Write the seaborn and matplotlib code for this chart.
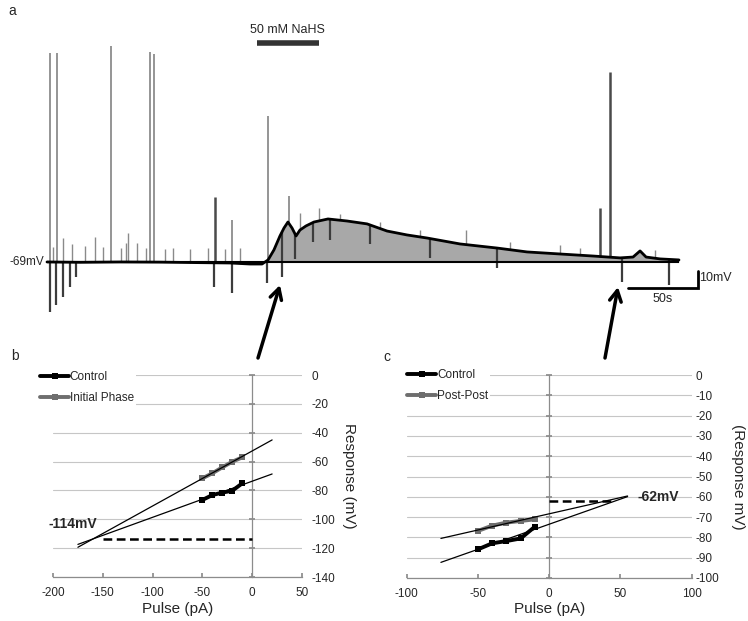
import numpy as np
import pandas as pd
import matplotlib
matplotlib.use("Agg")
import matplotlib.pyplot as plt
import seaborn as sns
from matplotlib.lines import Line2D
from matplotlib.patches import FancyArrowPatch

# ---------------- Panel a: membrane potential trace (time s, mV) ----------------
trace_t = [0, 23.6, 52.1, 80.7, 109.3, 130.7, 145.0, 153.6, 157.9, 162.1, 166.4, 169.3,
           172.1, 175.0, 177.9, 180.7, 185.0, 190.7, 200.7, 214.3, 228.6, 242.9, 257.1,
           271.4, 295.0, 321.4, 342.9, 366.4, 390.0, 409.3, 418.6, 423.6, 427.9, 437.9, 451.4]
trace_mv = [-69.0, -69.2, -69.0, -69.1, -69.4, -69.6, -70.2, -70.2, -67.8, -61.9, -53.7, -49.0,
            -45.5, -49.0, -53.7, -50.2, -47.8, -45.5, -43.7, -44.9, -46.6, -50.8, -53.1,
            -54.9, -58.4, -60.8, -63.1, -64.3, -65.5, -66.6, -66.1, -62.5, -66.1, -67.2, -67.8]
resting_mv = -69

spike_t = [2.1, 7.1, 45.7, 73.6, 76.4, 132.1, 157.9, 172.9]
spike_top = [53.9, 53.9, 58.1, 54.5, 53.4, -44.3, 16.9, -30.2]
dark_spike_t = [120.0, 395.0, 402.1]
dark_spike_top = [-30.8, -37.2, 42.8]

down_t = [2.1, 6.4, 11.4, 16.4, 20.7, 119.3, 132.1, 157.1, 167.9, 177.1, 190.0, 202.1,
          230.7, 273.6, 321.4, 410.7, 444.3]
down_bottom = [-98.4, -94.3, -89.6, -83.7, -77.8, -83.7, -87.2, -81.3, -77.8, -67.2, -57.2,
               -56.1, -58.4, -66.6, -72.5, -80.8, -82.5]

noise_t = [4.3, 11.4, 17.9, 27.1, 34.3, 40.0, 52.9, 56.4, 57.9, 64.3, 70.7, 84.3, 90.0,
           102.1, 115.0, 127.1, 137.9, 180.7, 194.3, 209.3, 237.9, 266.4, 299.3, 330.7,
           366.4, 380.7, 434.3]
noise_top = [-60.2, -54.9, -58.4, -59.6, -54.3, -60.2, -60.8, -57.8, -51.9, -57.8, -60.8,
             -61.4, -60.8, -61.4, -60.8, -61.4, -60.8, -40.2, -37.2, -40.8, -45.5, -50.2,
             -50.2, -57.2, -59.0, -60.8, -61.9]

drug_label = "50 mM NaHS"
drug_on, drug_off = 150, 194
scale_s, scale_mv = 50, 10

# ---------------- Panels b and c: I-V relations ----------------
pulse = [-50, -40, -30, -20, -10]
b_control = [-86.6, -83.2, -81.5, -80.2, -75.1]
b_initial = [-71.6, -68.1, -64.0, -60.1, -57.1]
b_trend_x = [-175, 20]
b_trend_control = [-117.4, -68.6]
b_trend_initial = [-119.4, -45.0]
b_rev_x = [-150, 0]
b_rev = -114

c_control = [-85.9, -82.9, -81.8, -80.5, -74.7]
c_post = [-76.8, -74.2, -72.7, -71.9, -71.1]
c_trend_x = [-76, 55]
c_trend_control = [-92.3, -59.9]
c_trend_post = [-80.5, -59.6]
c_rev_x = [0, 44]
c_rev = -62

b_xticks = [-200, -150, -100, -50, 0, 50]
b_yticks = [0, -20, -40, -60, -80, -100, -120, -140]
c_xticks = [-100, -50, 0, 50, 100]
c_yticks = [0, -10, -20, -30, -40, -50, -60, -70, -80, -90, -100]

# ---------------- Style ----------------
sns.set_theme(style="white")
plt.rcParams["font.family"] = ["Liberation Sans", "DejaVu Sans"]
plt.rcParams["axes.unicode_minus"] = False

W, H = 748, 621
fig = plt.figure(figsize=(W / 100, H / 100), dpi=100)


def fx(px):
    return px / W


def fy(py):
    return 1 - py / H


# ---------------- Panel a ----------------
ax_a = fig.add_axes([0, fy(340), 1, 340 / H])
ax_a.set_xlim(-33.57, 500.7)
ax_a.set_ylim(-114.9, 85.1)
ax_a.axis("off")

tt = np.array(trace_t)
vv = np.array(trace_mv)
ax_a.fill_between(tt, vv, resting_mv, where=vv > resting_mv, interpolate=True,
                  color="#a8a8a8", lw=0, zorder=1)

nb = np.interp(noise_t, tt, vv)
ax_a.vlines(noise_t, nb, noise_top, color="#8a8a8a", lw=1.0, zorder=2)
sb = np.interp(spike_t, tt, vv)
ax_a.vlines(spike_t, sb, spike_top, color="#8c8c8c", lw=1.3, zorder=2)
db = np.interp(dark_spike_t, tt, vv)
ax_a.vlines(dark_spike_t, db, dark_spike_top, color="#4a4a4a", lw=1.8, zorder=2)
wb = np.interp(down_t, tt, vv)
ax_a.vlines(down_t, wb, down_bottom, color="#3c3c3c", lw=1.6, zorder=3)

trace_df = pd.DataFrame({"t": trace_t, "mV": trace_mv})
sns.lineplot(data=trace_df, x="t", y="mV", ax=ax_a, color="black", lw=2.0,
             sort=False, estimator=None, zorder=4)
ax_a.hlines(resting_mv, trace_t[0], trace_t[-1], color="black", lw=1.5, zorder=5)
ax_a.axis("off")

ax_a.text(-2.1, resting_mv, f"{resting_mv}mV", ha="right", va="center", fontsize=8.5)
ax_a.plot([drug_on, drug_off], [59.8, 59.8], color="#333333", lw=4, solid_capstyle="butt")
ax_a.text((drug_on + drug_off) / 2, 67.5, drug_label, ha="center", va="center", fontsize=9)

# scale bars
sx1 = 465.0
sy0 = -84.3
ax_a.plot([sx1 - scale_s, sx1, sx1], [sy0, sy0, sy0 + scale_mv], color="black", lw=2,
          solid_joinstyle="miter")
ax_a.text(sx1 + 0.8, sy0 + scale_mv / 2 + 0.8, f"{scale_mv}mV", ha="left", va="center",
          fontsize=9)
ax_a.text(sx1 - scale_s / 2, sy0 - 6.5, f"{scale_s}s", ha="center", va="center", fontsize=9)

fig.text(fx(8), fy(11), "a", ha="left", va="center", fontsize=10)


# ---------------- Panels b / c ----------------
def iv_panel(rect, ctrl, other, other_name, xticks, yticks, tx, t_ctrl, t_other,
             rev_x, rev, rev_xy, ylab, ylab_x, tick_pad, leg_xy):
    ax = fig.add_axes(rect)
    df = pd.DataFrame({
        "Pulse": pulse * 2,
        "Response": ctrl + other,
        "Series": ["Control"] * len(pulse) + [other_name] * len(pulse),
    })
    pal = {"Control": "#000000", other_name: "#6e6e6e"}
    sns.lineplot(data=df, x="Pulse", y="Response", hue="Series", palette=pal,
                 hue_order=["Control", other_name], marker="s", markersize=4.5,
                 markeredgewidth=0, lw=2.8, sort=False, estimator=None, ax=ax,
                 legend=False, zorder=4)
    ax.plot(tx, t_ctrl, color="black", lw=0.9, zorder=5)
    ax.plot(tx, t_other, color="black", lw=0.9, zorder=5)
    ax.plot(rev_x, [rev, rev], color="black", lw=1.8, ls=(0, (3.5, 1.8)), zorder=5)
    ax.text(rev_xy[0], rev_xy[1], f"{rev}mV", fontweight="bold", fontsize=10,
            ha="left", va="center")

    ax.set_xlim(xticks[0], xticks[-1])
    ax.set_ylim(yticks[-1], yticks[0])
    ax.set_xticks(xticks)
    ax.set_yticks(yticks)
    ax.yaxis.grid(True, color="#c6c6c6", lw=0.8)
    ax.xaxis.grid(False)
    ax.set_axisbelow(True)
    for s in ["top", "right"]:
        ax.spines[s].set_visible(False)
    ax.spines["left"].set_position(("data", 0))
    ax.spines["left"].set_color("#8c8c8c")
    ax.spines["bottom"].set_color("#8c8c8c")
    ax.spines["left"].set_linewidth(0.9)
    ax.spines["bottom"].set_linewidth(0.9)
    ax.tick_params(axis="y", direction="inout", length=4, color="#8c8c8c",
                   labelleft=False, left=True)
    ax.tick_params(axis="x", direction="in", length=3, color="#8c8c8c", labelsize=8.5,
                   pad=7, bottom=True)
    ax.set_xlabel("Pulse (pA)", fontsize=11, labelpad=2)
    ax.set_ylabel("")

    ax2 = ax.twinx()
    ax2.set_ylim(ax.get_ylim())
    ax2.set_yticks(yticks)
    ax2.tick_params(axis="y", length=0, pad=tick_pad, labelsize=8.5)
    for s in ax2.spines.values():
        s.set_visible(False)
    ax2.set_ylabel(ylab, rotation=270, fontsize=11, ha="center", va="center")
    ax2.yaxis.set_label_coords(ylab_x, 0.5)

    handles = [Line2D([], [], color=pal["Control"], lw=2.8, marker="s", ms=4.5, mew=0),
               Line2D([], [], color=pal[other_name], lw=2.8, marker="s", ms=4.5, mew=0)]
    leg = ax.legend(handles, ["Control", other_name], loc="upper left",
                    bbox_to_anchor=leg_xy, bbox_transform=fig.transFigure,
                    frameon=True, facecolor="white", edgecolor="none", framealpha=1,
                    fontsize=8.5, handlelength=2.4, handletextpad=0.1,
                    labelspacing=0.75, borderpad=0.2, borderaxespad=0, fancybox=False)
    leg.set_zorder(6)
    return ax


iv_panel([fx(53), fy(577), 249 / W, 202 / H], b_control, b_initial, "Initial Phase",
         b_xticks, b_yticks, b_trend_x, b_trend_control, b_trend_initial,
         b_rev_x, b_rev, (-205, -103.3), "Response (mV)", 1.19, 7,
         (fx(38), fy(369)))

iv_panel([fx(406.7), fy(578), 285 / W, 203 / H], c_control, c_post, "Post-Post",
         c_xticks, c_yticks, c_trend_x, c_trend_control, c_trend_post,
         c_rev_x, c_rev, (62, -60), "(Response mV)", 1.163, 2.5,
         (fx(405), fy(367)))

fig.text(fx(11), fy(356), "b", ha="left", va="center", fontsize=10)
fig.text(fx(383), fy(357), "c", ha="left", va="center", fontsize=10)

# arrows linking panel a to panels b and c
for tail, head in [((258, 358), (280, 285)), ((605, 358), (618, 287))]:
    fig.add_artist(FancyArrowPatch(posA=(fx(tail[0]), fy(tail[1])),
                                   posB=(fx(head[0]), fy(head[1])),
                                   transform=fig.transFigure,
                                   arrowstyle="->,head_length=0.55,head_width=0.3",
                                   mutation_scale=14, lw=2.5, color="black",
                                   shrinkA=0, shrinkB=0))

fig.savefig("out.png", dpi=100)
